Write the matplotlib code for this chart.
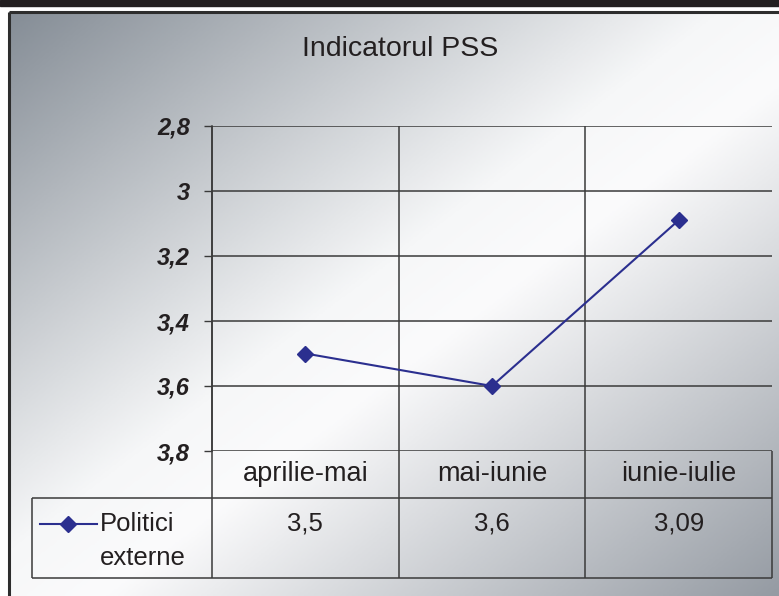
import numpy as np
import matplotlib

matplotlib.use("Agg")
import matplotlib.pyplot as plt
from matplotlib.colors import LinearSegmentedColormap
from matplotlib.patches import Rectangle
from matplotlib.transforms import blended_transform_factory

plt.rcParams["font.family"] = ["Liberation Sans", "DejaVu Sans"]

title = "Indicatorul PSS"
categories = ["aprilie-mai", "mai-iunie", "iunie-iulie"]
series_name = "Politici\nexterne"
values = [3.5, 3.6, 3.09]
value_labels = ["3,5", "3,6", "3,09"]
yticks = [2.8, 3.0, 3.2, 3.4, 3.6, 3.8]
ytick_labels = ["2,8", "3", "3,2", "3,4", "3,6", "3,8"]

W, H = 779, 596
line_color = "#2b2f8f"
grid_color = "#3a3a3a"
text_color = "#231f20"

fig = plt.figure(figsize=(W / 100, H / 100), dpi=100)
fig.patch.set_facecolor("white")

# page background in pixel coordinates (y down)
bg = fig.add_axes([0, 0, 1, 1])
bg.set_xlim(0, W)
bg.set_ylim(H, 0)
bg.axis("off")
xx, yy = np.meshgrid(np.linspace(0, 1, 400), np.linspace(0, 1, 300))
sheen = LinearSegmentedColormap.from_list(
    "sheen",
    [(0, "#858d96"), (0.46, "#f6f7f8"), (0.56, "#fbfbfc"), (1, "#959ba3")],
)
bg.imshow((xx + yy) / 2, cmap=sheen, vmin=0, vmax=1, extent=(9, W, H, 12),
          aspect="auto", interpolation="bilinear", zorder=0)
bg.add_patch(Rectangle((0, 0), W, 6, color="#231f20", zorder=2))
bg.plot([9, 9], [12, H], color="#2d2d2d", lw=2.2, zorder=2, solid_capstyle="butt")
bg.plot([9, W], [12, 12], color="#2d2d2d", lw=2.2, zorder=2, solid_capstyle="butt")

fig.text(400 / W, 1 - 49 / H, title, ha="center", va="center",
         fontsize=20.5, color=text_color)

# plot area
ax = fig.add_axes([212 / W, (H - 451) / H, 560 / W, 325 / H])
ax.set_facecolor("none")
ax.set_xlim(-0.5, len(categories) - 0.5)
ax.set_ylim(3.8, 2.8)
for side in ("top", "right", "bottom"):
    ax.spines[side].set_visible(False)
ax.spines["left"].set_color(grid_color)
ax.spines["left"].set_linewidth(1.1)

ax.set_yticks(yticks, ytick_labels)
ax.tick_params(axis="y", length=6, width=1, color=grid_color, pad=10,
               labelsize=17, labelcolor=text_color)
for lbl in ax.get_yticklabels():
    lbl.set_fontweight("bold")
    lbl.set_fontstyle("italic")
ax.yaxis.grid(True, color=grid_color, lw=1.1)

ax.set_xticks(range(len(categories)), categories)
ax.tick_params(axis="x", length=0, pad=7, labelsize=19.5, labelcolor=text_color)

# data table below the axis
trans = blended_transform_factory(ax.transData, ax.transAxes)
row_top, row_bot, tab_left = -0.1446, -0.391, -0.321
edges = np.arange(len(categories) + 1) - 0.5
ax.vlines(edges[:-1], row_bot, 1, transform=trans, color=grid_color, lw=1.1, clip_on=False)
ax.vlines(edges[-1], row_bot, 0, transform=trans, color=grid_color, lw=1.1, clip_on=False)
ax.hlines([row_top, row_bot], tab_left, 1, transform=ax.transAxes,
          color=grid_color, lw=1.1, clip_on=False)
ax.vlines(tab_left, row_bot, row_top, transform=ax.transAxes,
          color=grid_color, lw=1.1, clip_on=False)

ax.plot(range(len(values)), values, color=line_color, lw=1.5, marker="D",
        ms=8.5, zorder=5, clip_on=False)

for i, lab in enumerate(value_labels):
    ax.text(i, -0.2246, lab, transform=trans, ha="center", va="center",
            fontsize=18.5, color=text_color)

# legend key inside the table
ax.plot([-0.307, -0.205], [-0.2246, -0.2246], transform=ax.transAxes,
        color=line_color, lw=1.5, clip_on=False)
ax.plot([-0.257], [-0.2246], transform=ax.transAxes, color=line_color,
        marker="D", ms=8.5, clip_on=False)
ax.text(-0.200, -0.189, series_name, transform=ax.transAxes, ha="left",
        va="top", fontsize=18.5, color=text_color, linespacing=1.5)

fig.savefig("out.png", dpi=100)
